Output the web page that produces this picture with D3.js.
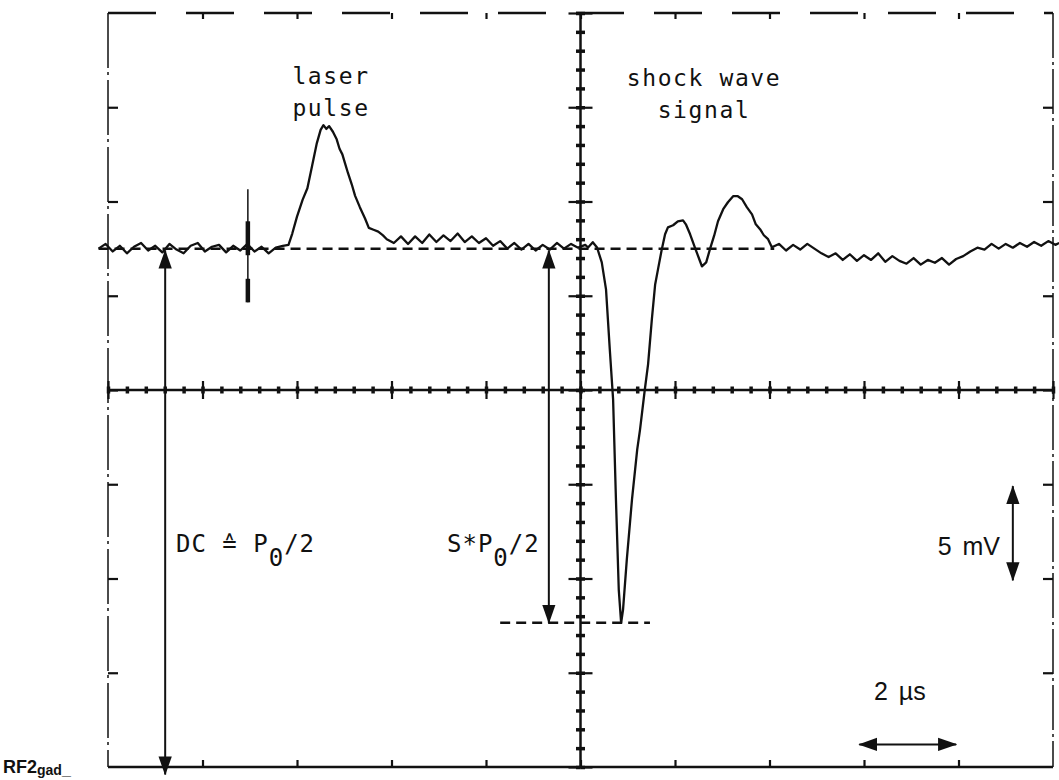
<!DOCTYPE html>
<html>
<head>
<meta charset="utf-8">
<script src="https://cdn.jsdelivr.net/npm/d3@7"></script>
<style>
  body { margin: 0; background: #fff; }
  svg { display: block; }
  .mono { font-family: "DejaVu Sans Mono", monospace; fill: #111; }
  .sans { font-family: "Liberation Sans", Arial, sans-serif; fill: #111; }
</style>
</head>
<body>
<div id="chart"></div>
<script>
// Oscilloscope record: 2 us per division, 5 mV per division
const timeUs = [
  -0.2, -0.05, 0.1, 0.25, 0.4, 0.55, 0.7, 0.85, 1.0, 1.15, 1.3, 1.45, 1.6, 1.75, 1.9, 2.05, 2.2, 2.35, 2.5, 2.65, 2.8, 2.95, 3.1, 3.25, 3.4, 3.55, 3.7,
  3.82, 3.9, 4.0, 4.12, 4.22, 4.32, 4.42, 4.5, 4.56, 4.62, 4.68, 4.76, 4.84, 4.9, 4.96, 5.02, 5.08, 5.16, 5.23, 5.33, 5.44, 5.52, 5.62, 5.72, 5.82, 5.9,
  6.05, 6.2, 6.35, 6.5, 6.65, 6.8, 6.95, 7.1, 7.25, 7.4, 7.55, 7.7, 7.85, 8.0, 8.15, 8.3, 8.45, 8.6, 8.75, 8.9, 9.05, 9.2, 9.35, 9.5, 9.65, 9.8, 9.95,
  10.1, 10.16, 10.26, 10.35, 10.45, 10.54, 10.62, 10.69, 10.75, 10.81, 10.86, 10.9, 10.98, 11.09, 11.2, 11.26, 11.36, 11.43, 11.51, 11.58, 11.64, 11.72,
  11.79, 11.85, 11.96, 12.06, 12.17, 12.23, 12.32, 12.42, 12.53, 12.57, 12.66, 12.74, 12.83, 12.91, 13.02, 13.12, 13.23, 13.33, 13.42, 13.52, 13.63,
  13.71, 13.8, 13.88, 13.97, 14.05,
  14.2, 14.35, 14.5, 14.65, 14.8, 14.95, 15.1, 15.25, 15.4, 15.55, 15.7, 15.85, 16.0, 16.15, 16.3, 16.45, 16.6, 16.75, 16.9, 17.05, 17.2, 17.35, 17.5,
  17.65, 17.8, 17.95, 18.1, 18.25, 18.4, 18.55, 18.7, 18.85, 19.0, 19.15, 19.3, 19.45, 19.6, 19.75, 19.9, 20.05, 20.13
];
const signalMv = [
  7.5, 7.75, 7.35, 7.65, 7.25, 7.6, 7.8, 7.4, 7.65, 7.3, 7.75, 7.45, 7.25, 7.65, 7.8, 7.35, 7.6, 7.7, 7.3, 7.65, 7.4, 7.75, 7.35, 7.6, 7.25, 7.55, 7.65,
  7.7, 8.3, 9.2, 10.1, 10.7, 11.9, 13.1, 13.8, 14.05, 13.85, 14.0, 13.7, 13.3, 12.8, 12.5, 12.0, 11.5, 10.9, 10.3, 9.7, 9.1, 8.6, 8.5, 8.4, 8.2, 8.0,
  7.8, 8.15, 7.75, 8.15, 7.8, 8.25, 7.85, 8.2, 7.9, 8.3, 7.85, 8.15, 7.8, 8.05, 7.65, 7.9, 7.5, 7.8, 7.45, 7.75, 7.4, 7.7, 7.45, 7.8, 7.5, 7.75, 7.55,
  7.7, 7.56, 7.84, 7.56, 6.77, 5.34, 2.15, -0.5, -5.8, -10.6, -12.35, -11.66, -9.0, -5.8, -3.16, -2.1, 0, 1.36, 3.75, 5.6, 6.4, 7.46,
  8.26, 8.63, 8.74, 8.95, 9.0, 8.79, 8.26, 7.57, 6.83, 6.56, 6.77, 7.47, 8.2, 8.95, 9.59, 9.96, 10.28, 10.28, 10.12, 9.7, 9.32,
  8.79, 8.53, 8.21, 8.0, 7.57,
  7.75, 7.4, 7.7, 7.45, 7.75, 7.5, 7.25, 7.05, 7.25, 6.9, 7.2, 6.85, 7.15, 6.9, 7.25, 6.8, 7.1, 6.85, 6.7, 7.0, 6.65, 6.9, 6.75,
  7.0, 6.65, 6.95, 7.1, 7.35, 7.55, 7.45, 7.75, 7.5, 7.75, 7.55, 7.8, 7.6, 7.85, 7.65, 7.9, 7.7, 7.8
];

// reference levels and markers
const dcLevelMv = 7.5;
const minLevelMv = -12.35;
const dcArrowUs = 1.21;
const spArrowUs = 9.33;
const triggerUs = 2.96;
const scaleMvArrow = [-5.1, -10.1];   // 1 div = 5 mV
const scaleUsArrow = [15.9, 17.95];   // 1 div = 2 us

const majorX = d3.range(0, 20.01, 2);
const minorX = d3.range(0, 20.01, 0.4);
const majorY = d3.range(-20, 20.01, 5);
const minorY = d3.range(-20, 20.01, 1);

const W = 1059, H = 780;
const svg = d3.select("#chart").append("svg").attr("width", W).attr("height", H);

const x = d3.scaleLinear().domain([0, 20]).range([108, 1053]);
const y = d3.scaleLinear().domain([-20, 20]).range([767, 13]);

const defs = svg.append("defs");
defs.append("marker")
  .attr("id", "head")
  .attr("viewBox", "0 -7 20 14")
  .attr("refX", 19).attr("refY", 0)
  .attr("markerWidth", 19).attr("markerHeight", 14)
  .attr("markerUnits", "userSpaceOnUse")
  .attr("orient", "auto-start-reverse")
  .append("path").attr("d", "M0,-7L20,0L0,7Z").attr("fill", "#111");

// frame
const frame = svg.append("g").attr("stroke", "#111").attr("fill", "none");
frame.append("line").attr("x1", x(0)).attr("x2", x(0)).attr("y1", y(20)).attr("y2", y(-20))
  .attr("stroke-width", 1.5).attr("stroke-dasharray", "55 4 3 5");
frame.append("line").attr("x1", x(20)).attr("x2", x(20)).attr("y1", y(20)).attr("y2", y(-20))
  .attr("stroke-width", 1.5).attr("stroke-dasharray", "45 4 3 4");
frame.append("line").attr("x1", x(0)).attr("x2", x(20)).attr("y1", y(20)).attr("y2", y(20))
  .attr("stroke-width", 2.5).attr("stroke-dasharray", "48 30");
frame.append("line").attr("x1", x(0)).attr("x2", x(20)).attr("y1", y(-20)).attr("y2", y(-20))
  .attr("stroke-width", 2.5);

// edge ticks
function edgeTicks(axis, tx, ty) {
  const g = svg.append("g").attr("transform", `translate(${tx},${ty})`).call(axis);
  g.select(".domain").remove();
  g.selectAll(".tick line").attr("stroke", "#111").attr("stroke-width", 2.2);
  return g;
}
edgeTicks(d3.axisRight(y).tickValues(majorY.slice(1, -1)).tickSize(10).tickFormat(""), x(0), 0);
edgeTicks(d3.axisLeft(y).tickValues(majorY.slice(1, -1)).tickSize(10).tickFormat(""), x(20), 0);
edgeTicks(d3.axisBottom(x).tickValues(majorX.slice(1, -1)).tickSize(6).tickFormat(""), 0, y(20));
edgeTicks(d3.axisTop(x).tickValues(majorX.slice(1, -1)).tickSize(7).tickFormat(""), 0, y(-20));

// center graticule lines
svg.append("line").attr("x1", x(0)).attr("x2", x(20)).attr("y1", y(0)).attr("y2", y(0))
  .attr("stroke", "#111").attr("stroke-width", 2.5);
svg.append("line").attr("x1", x(10)).attr("x2", x(10)).attr("y1", y(20)).attr("y2", y(-20))
  .attr("stroke", "#111").attr("stroke-width", 2.5);

edgeTicks(d3.axisTop(x).tickValues(minorX).tickSize(3.5).tickFormat(""), 0, y(0)).selectAll("line").attr("stroke-width", 3.5);
edgeTicks(d3.axisBottom(x).tickValues(minorX).tickSize(3.5).tickFormat(""), 0, y(0)).selectAll("line").attr("stroke-width", 3.5);
edgeTicks(d3.axisTop(x).tickValues(majorX).tickSize(9).tickFormat(""), 0, y(0));
edgeTicks(d3.axisBottom(x).tickValues(majorX).tickSize(9).tickFormat(""), 0, y(0));
edgeTicks(d3.axisLeft(y).tickValues(minorY).tickSize(4.5).tickFormat(""), x(10), 0).selectAll("line").attr("stroke-width", 3.5);
edgeTicks(d3.axisRight(y).tickValues(minorY).tickSize(4.5).tickFormat(""), x(10), 0).selectAll("line").attr("stroke-width", 3.5);
edgeTicks(d3.axisLeft(y).tickValues(majorY).tickSize(12).tickFormat(""), x(10), 0);
edgeTicks(d3.axisRight(y).tickValues(majorY).tickSize(12).tickFormat(""), x(10), 0);

// dashed reference levels
svg.append("line").attr("x1", x(-0.2)).attr("x2", x(14.1)).attr("y1", y(dcLevelMv)).attr("y2", y(dcLevelMv))
  .attr("stroke", "#111").attr("stroke-width", 2.5).attr("stroke-dasharray", "10 6");
svg.append("line").attr("x1", x(8.3)).attr("x2", x(11.47)).attr("y1", y(minLevelMv)).attr("y2", y(minLevelMv))
  .attr("stroke", "#111").attr("stroke-width", 2.5).attr("stroke-dasharray", "10 6");

// trace
const traceData = timeUs.map((t, i) => ({t: t, v: signalMv[i]}));
const line = d3.line().x(d => x(d.t)).y(d => y(d.v));
svg.append("path").datum(traceData).attr("d", line)
  .attr("fill", "none").attr("stroke", "#111").attr("stroke-width", 2.3).attr("stroke-linejoin", "round");

// trigger marker
const trig = svg.append("g").attr("stroke", "#111");
trig.append("line").attr("x1", x(triggerUs)).attr("x2", x(triggerUs)).attr("y1", y(10.65)).attr("y2", y(4.65)).attr("stroke-width", 1.5);
trig.append("line").attr("x1", x(triggerUs)).attr("x2", x(triggerUs)).attr("y1", y(8.95)).attr("y2", y(7.15)).attr("stroke-width", 4.5);
trig.append("line").attr("x1", x(triggerUs)).attr("x2", x(triggerUs)).attr("y1", y(5.9)).attr("y2", y(4.65)).attr("stroke-width", 4.5);

// arrows
function arrow(x1, y1, x2, y2) {
  svg.append("line").attr("x1", x1).attr("y1", y1).attr("x2", x2).attr("y2", y2)
    .attr("stroke", "#111").attr("stroke-width", 2)
    .attr("marker-start", "url(#head)").attr("marker-end", "url(#head)");
}
arrow(x(dcArrowUs), y(dcLevelMv - 0.1), x(dcArrowUs), y(-20.4));
arrow(x(spArrowUs), y(dcLevelMv - 0.1), x(spArrowUs), y(minLevelMv));
arrow(x(19.15), y(scaleMvArrow[0]), x(19.15), y(scaleMvArrow[1]));
arrow(x(scaleUsArrow[0]), y(-18.8), x(scaleUsArrow[1]), y(-18.8));

// labels
function label(txt, cx, by) {
  svg.append("text").attr("class", "mono").attr("x", cx).attr("y", by)
    .attr("text-anchor", "middle").attr("font-size", 23).attr("letter-spacing", 1.6).text(txt);
}
label("laser", 331, 84);
label("pulse", 331, 116);
label("shock wave", 704, 86);
label("signal", 704, 118);

function formula(pre, xs, by) {
  const t = svg.append("text").attr("class", "mono").attr("x", xs).attr("y", by)
    .attr("font-size", 24).attr("letter-spacing", 1);
  t.append("tspan").text(pre);
  t.append("tspan").attr("dy", 14).text("0");
  t.append("tspan").attr("dy", -14).text("/2");
}
formula("DC \u2259 P", 176, 552);
formula("S*P", 447, 552);

svg.append("text").attr("class", "sans").attr("x", 1000).attr("y", 555)
  .attr("text-anchor", "end").attr("font-size", 25).attr("word-spacing", 4).text("5 mV");
svg.append("text").attr("class", "sans").attr("x", 874).attr("y", 700)
  .attr("font-size", 25).attr("word-spacing", 4).text("2 \u00b5s");

const tag = svg.append("text").attr("class", "sans").attr("x", 3).attr("y", 773)
  .attr("font-size", 18).attr("font-weight", "bold");
tag.append("tspan").text("RF2");
tag.append("tspan").attr("font-size", 14).attr("dy", 2).text("gad");
tag.append("tspan").attr("font-size", 16).text("_");
</script>
</body>
</html>
